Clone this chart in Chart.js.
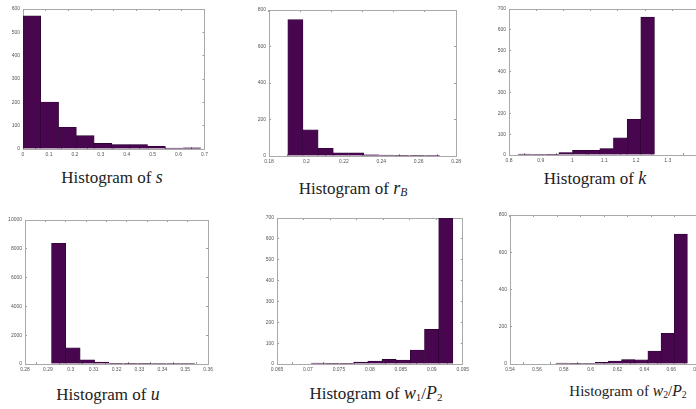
<!DOCTYPE html>
<html>
<head>
<meta charset="utf-8">
<script src="https://cdn.jsdelivr.net/npm/chart.js@4.4.0/dist/chart.umd.min.js"></script>
<style>
html,body{margin:0;padding:0;width:696px;height:409px;overflow:hidden;background:#fff;}
.pc{position:absolute;}
.tt{position:absolute;font-family:"Liberation Serif","DejaVu Serif",serif;font-size:17px;color:#222;white-space:nowrap;transform:translateX(-50%);}
.tt i{font-family:"Liberation Serif","DejaVu Serif",serif;font-style:italic;font-size:1.05em;}
.tt sub{font-size:0.65em;font-style:normal;vertical-align:-0.2em;line-height:0;}
</style>
</head>
<body>
<canvas id="c1" class="pc"></canvas>
<canvas id="c2" class="pc"></canvas>
<canvas id="c3" class="pc"></canvas>
<canvas id="c4" class="pc"></canvas>
<canvas id="c5" class="pc"></canvas>
<canvas id="c6" class="pc"></canvas>
<div class="tt" style="left:112px;top:167px;">Histogram of <i>s</i></div>
<div class="tt" style="left:353px;top:178px;">Histogram of <i>r</i><sub><i>B</i></sub></div>
<div class="tt" style="left:595px;top:168px;">Histogram of <i>k</i></div>
<div class="tt" style="left:108px;top:384px;">Histogram of <i>u</i></div>
<div class="tt" style="left:376px;top:383px;">Histogram of <i>w</i><sub>1</sub>/<i>P</i><sub>2</sub></div>
<div class="tt" style="left:628px;top:382px;font-size:15px;">Histogram of <i>w</i><sub>2</sub>/<i>P</i><sub>2</sub></div>
<script>
// ---- data (bin centers and counts) ----
const sCenters = [0.0343, 0.1029, 0.1715, 0.2401, 0.3087, 0.3773, 0.4459, 0.5145, 0.5831, 0.6517];
const sCounts  = [571, 201, 93, 57, 24, 19, 19, 11, 4, 5];
const sXTicks  = [0, 0.1, 0.2, 0.3, 0.4, 0.5, 0.6, 0.7];
const sYTicks  = [0, 100, 200, 300, 400, 500, 600];

const rCenters = [0.1941, 0.2022, 0.2103, 0.2184, 0.2266, 0.2347, 0.2428, 0.2509, 0.2591, 0.2672];
const rCounts  = [747, 143, 42, 18, 18, 7, 5, 2, 1, 3];
const rXTicks  = [0.18, 0.2, 0.22, 0.24, 0.26, 0.28];
const rYTicks  = [0, 200, 400, 600, 800];

const kCenters = [0.8495, 0.8925, 0.9355, 0.9785, 1.0215, 1.0645, 1.1075, 1.1505, 1.1935, 1.2365];
const kCounts  = [5, 2, 3, 12, 22, 22, 31, 82, 171, 661];
const kXTicks  = [0.8, 0.9, 1, 1.1, 1.2, 1.3, 1.4];
const kYTicks  = [0, 100, 200, 300, 400, 500, 600, 700];

const uCenters = [0.2947, 0.3010, 0.3073, 0.3135, 0.3198, 0.3261, 0.3323, 0.3386, 0.3449, 0.3511];
const uCounts  = [8380, 1120, 290, 135, 45, 25, 8, 2, 1, 1];
const uXTicks  = [0.28, 0.29, 0.3, 0.31, 0.32, 0.33, 0.34, 0.35, 0.36];
const uYTicks  = [0, 2000, 4000, 6000, 8000, 10000];

const w1Centers = [0.07165, 0.07394, 0.07623, 0.07852, 0.08081, 0.0831, 0.08539, 0.08768, 0.08997, 0.09226];
const w1Counts  = [5, 1, 3, 9, 14, 22, 19, 67, 166, 700];
const w1XTicks  = [0.065, 0.07, 0.075, 0.08, 0.085, 0.09, 0.095];
const w1YTicks  = [0, 100, 200, 300, 400, 500, 600, 700];

const w2Centers = [0.5789, 0.5887, 0.5985, 0.6083, 0.6181, 0.6279, 0.6377, 0.6475, 0.6573, 0.6671];
const w2Counts  = [5, 1, 3, 9, 16, 24, 22, 70, 165, 697];
const w2XTicks  = [0.54, 0.56, 0.58, 0.6, 0.62, 0.64, 0.66, 0.68];
const w2YTicks  = [0, 200, 400, 600, 800];

// ---- layout: plot area rectangles (left, top, right, bottom) ----
const Y_W = 20, X_H = 12, TOP_H = 4, RIGHT_W = 6;
const BORDER = '#a9a9a9';
const TICKC = '#9a9a9a';
const BAR = '#48064f';
const BAR_EDGE = '#2a0131';

function panel(id, rect, centers, counts, xTicks, yTicks) {
  const [L, T, R, B] = rect;
  const cv = document.getElementById(id);
  const w = (R - L) + Y_W + RIGHT_W;
  const h = (B - T) + TOP_H + X_H;
  cv.width = w; cv.height = h;
  cv.style.left = (L - Y_W) + 'px';
  cv.style.top = (T - TOP_H) + 'px';
  cv.style.width = w + 'px'; cv.style.height = h + 'px';
  const xmin = xTicks[0], xmax = xTicks[xTicks.length - 1];
  const ymin = yTicks[0], ymax = yTicks[yTicks.length - 1];
  const tickFont = {family: 'Liberation Sans, Arial, sans-serif', size: 5};
  const setX = s => { s.ticks = xTicks.map(v => ({value: v})); };
  const setY = s => { s.ticks = yTicks.map(v => ({value: v})); };
  const inGrid = {display: true, drawOnChartArea: false, drawTicks: true, tickLength: -2, color: TICKC, lineWidth: 1};
  new Chart(cv, {
    type: 'bar',
    data: {
      datasets: [{
        data: centers.map((c, i) => ({x: c, y: counts[i]})),
        backgroundColor: BAR,
        borderColor: BAR_EDGE,
        borderWidth: 0.6,
        barPercentage: 1,
        categoryPercentage: 1,
        xAxisID: 'x',
        yAxisID: 'y'
      }]
    },
    options: {
      responsive: false,
      animation: false,
      devicePixelRatio: 1,
      layout: {padding: 0},
      plugins: {legend: {display: false}, tooltip: {enabled: false}, title: {display: false}},
      scales: {
        x: {
          type: 'linear', position: 'bottom', min: xmin, max: xmax, offset: false,
          afterBuildTicks: setX,
          afterFit: s => { s.height = X_H; },
          grid: inGrid,
          border: {display: true, color: BORDER, width: 1},
          ticks: {font: tickFont, color: '#555', padding: 5, maxRotation: 0, autoSkip: false,
                  callback: v => String(+v.toFixed(4))}
        },
        xTop: {
          type: 'linear', position: 'top', min: xmin, max: xmax,
          afterBuildTicks: setX,
          afterFit: s => { s.height = TOP_H; },
          grid: inGrid,
          border: {display: true, color: BORDER, width: 1},
          ticks: {display: false}
        },
        y: {
          type: 'linear', position: 'left', min: ymin, max: ymax,
          afterBuildTicks: setY,
          afterFit: s => { s.width = Y_W; },
          grid: inGrid,
          border: {display: true, color: BORDER, width: 1},
          ticks: {font: tickFont, color: '#555', padding: 5, autoSkip: false,
                  callback: v => String(v)}
        },
        yRight: {
          type: 'linear', position: 'right', min: ymin, max: ymax,
          afterBuildTicks: setY,
          afterFit: s => { s.width = RIGHT_W; },
          grid: inGrid,
          border: {display: true, color: BORDER, width: 1},
          ticks: {display: false}
        }
      }
    }
  });
}

panel('c1', [23, 5, 207, 149], sCenters, sCounts, sXTicks, sYTicks);
panel('c2', [269, 6, 460, 156], rCenters, rCounts, rXTicks, rYTicks);
panel('c3', [509, 5, 702, 155], kCenters, kCounts, kXTicks, kYTicks);
panel('c4', [25, 216, 212, 364], uCenters, uCounts, uXTicks, uYTicks);
panel('c5', [277, 214, 468, 364], w1Centers, w1Counts, w1XTicks, w1YTicks);
panel('c6', [510, 211, 702, 364], w2Centers, w2Counts, w2XTicks, w2YTicks);
</script>
</body>
</html>
